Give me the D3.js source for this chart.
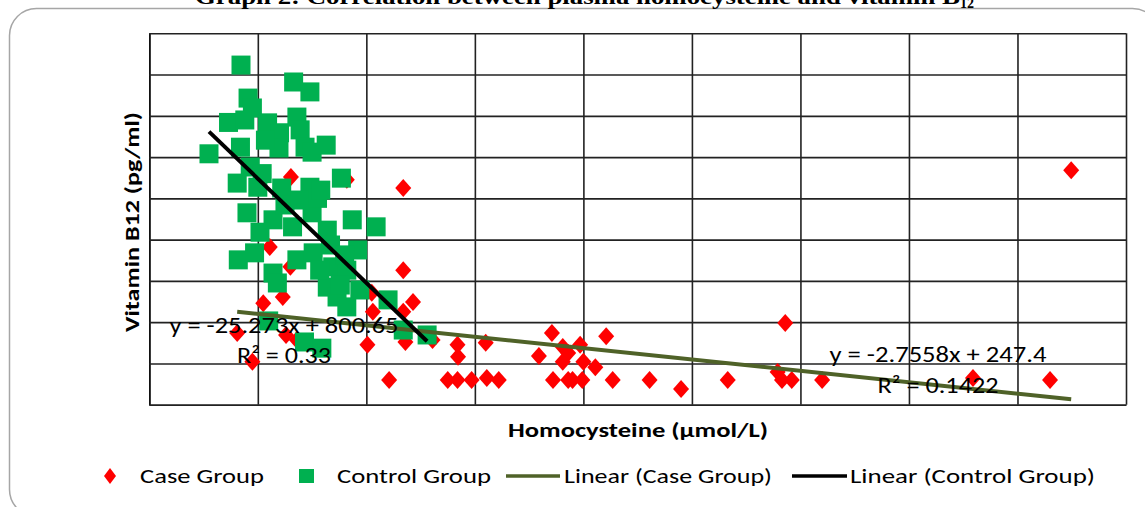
<!DOCTYPE html>
<html>
<head>
<meta charset="utf-8">
<script src="https://cdn.jsdelivr.net/npm/d3@7"></script>
<style>
  html, body { margin: 0; padding: 0; background: #fff; }
  svg { display: block; }
</style>
</head>
<body>
<svg id="chart" width="1145" height="507"></svg>
<script>
// ---------------- DATA ----------------
const xTicks = [0, 10, 20, 30, 40, 50, 60, 70, 80, 90];
const yTicks = [0, 100, 200, 300, 400, 500, 600, 700, 800, 900];

// Case group (homocysteine µmol/L, vitamin B12 pg/ml)
const caseX = [84.95, 23.4, 18.2, 13.05, 11.1, 23.4, 13.0, 10.5, 12.3, 20.5,
               24.3, 20.6, 23.4, 8.1, 9.5, 12.6, 13.6, 20.1, 23.6, 26.1,
               22.1, 27.5, 28.4, 29.7, 31.1, 32.2, 37.2, 38.6, 39.0, 39.9,
               42.7, 46.1, 49.0, 53.3, 28.4, 28.45, 31.0, 37.1, 35.9, 38.1,
               39.7, 38.1, 38.6, 40.0, 41.1, 42.1, 58.6, 57.9, 58.3, 59.2,
               62.0, 75.9, 83.0];
const caseY = [568, 525, 545, 552, 382, 326, 334, 246, 261, 271,
               249, 225, 225, 174, 104, 169, 157, 145, 152, 157,
               60, 60, 60, 60, 65, 60, 60, 60, 60, 60,
               60, 60, 38, 60, 145, 116, 150, 174, 118, 140,
               145, 104, 125, 104, 91, 166, 198, 79, 60, 60,
               60, 65, 60];

// Control group
const controlX = [8.45, 13.3, 14.8, 9.1, 9.5, 7.3, 8.4, 10.9, 12.0, 13.6,
                  13.9, 11.95, 14.35, 15.0, 16.3, 5.5, 9.3, 8.1, 10.0, 12.2,
                  14.8, 17.7, 9.0, 11.4, 10.2, 13.2, 15.0, 16.4, 18.7, 20.9,
                  19.2, 8.2, 9.7, 11.4, 13.6, 15.1, 16.9, 18.2, 11.8, 16.4,
                  17.3, 18.2, 22.0, 23.4, 25.6, 11.0, 14.3, 15.9, 12.5, 13.9,
                  15.5, 10.7, 15.8, 16.7, 18.0, 15.7, 19.4, 17.6, 8.8, 10.4];
const controlY = [823, 782, 758, 743, 719, 684, 624, 683, 659, 697,
                  666, 622, 624, 612, 629, 608, 576, 537, 527, 525,
                  527, 549, 465, 448, 418, 431, 465, 423, 448, 431,
                  375, 351, 368, 319, 351, 368, 334, 326, 295, 285,
                  261, 237, 254, 181, 169, 203, 152, 137, 484, 496,
                  500, 641, 520, 387, 363, 326, 278, 290, 690, 560];

// Linear trend lines [slope, intercept] and labels
const caseTrend = [-2.7558, 247.4];
const controlTrend = [-25.273, 800.65];
const caseTrendLabel = ["y = -2.7558x + 247.4", "R² = 0.1422"];
const controlTrendLabel = ["y = -25.273x + 800.65", "R² = 0.33"];

const legendLabels = ["Case Group", "Control Group", "Linear (Case Group)", "Linear (Control Group)"];

// ---------------- CHART ----------------
const svg = d3.select("#chart");
const FONT = "Carlito, Lato, 'Open Sans', sans-serif";
const plot = { left: 149.3, right: 1126, top: 33.3, bottom: 404.7 };

const x = d3.scaleLinear().domain([0, 90]).range([plot.left, plot.right]);
const y = d3.scaleLinear().domain([0, 900]).range([plot.bottom, plot.top]);

// chart area border
svg.append("rect")
  .attr("x", 9.5).attr("y", 8.5)
  .attr("width", 1150).attr("height", 508)
  .attr("rx", 27).attr("ry", 27)
  .attr("fill", "#fff").attr("stroke", "#a6a6a6").attr("stroke-width", 1.5);

// title (clipped at top, as in the source image)
const title = svg.append("text")
  .attr("x", 195).attr("y", 4)
  .attr("font-family", "'Liberation Serif', 'Times New Roman', serif")
  .attr("font-weight", "bold").attr("font-size", 22).attr("fill", "#000");
title.append("tspan").attr("textLength", 765).attr("lengthAdjust", "spacingAndGlyphs")
  .text("Graph 2: Correlation between plasma homocysteine and vitamin B");
title.append("tspan").attr("font-size", 14).attr("dy", 4).text("12");

// gridlines via axes
svg.append("g")
  .attr("transform", `translate(0,${plot.bottom})`)
  .call(d3.axisBottom(x).tickValues(xTicks).tickFormat("").tickSize(-(plot.bottom - plot.top)).tickSizeOuter(0))
  .call(g => g.select(".domain").attr("stroke", "#111").attr("stroke-width", 1.6))
  .call(g => g.selectAll(".tick line").attr("stroke", "#222").attr("stroke-width", 1.6));

svg.append("g")
  .attr("transform", `translate(${plot.left},0)`)
  .call(d3.axisLeft(y).tickValues(yTicks).tickFormat("").tickSize(-(plot.right - plot.left)).tickSizeOuter(0))
  .call(g => g.select(".domain").attr("stroke", "#111").attr("stroke-width", 1.6))
  .call(g => g.selectAll(".tick line").attr("stroke", "#222").attr("stroke-width", 1.6));

// axis titles
svg.append("text")
  .attr("x", 638).attr("y", 437)
  .attr("text-anchor", "middle")
  .attr("font-family", FONT).attr("font-weight", "bold").attr("font-size", 21)
  .attr("textLength", 260).attr("lengthAdjust", "spacingAndGlyphs")
  .text("Homocysteine (µmol/L)");

svg.append("text")
  .attr("transform", "translate(139,222) rotate(-90)")
  .attr("text-anchor", "middle")
  .attr("font-family", FONT).attr("font-weight", "bold").attr("font-size", 21)
  .attr("textLength", 220).attr("lengthAdjust", "spacingAndGlyphs")
  .text("Vitamin B12 (pg/ml)");

// markers
const caseData = caseX.map((v, i) => ({ x: v, y: caseY[i] }));
const controlData = controlX.map((v, i) => ({ x: v, y: controlY[i] }));
const diamond = "M0,-9L8,0L0,9L-8,0Z";

svg.append("g").selectAll("path").data(caseData).join("path")
  .attr("d", diamond)
  .attr("transform", d => `translate(${x(d.x)},${y(d.y)})`)
  .attr("fill", "#ff0000");

svg.append("g").selectAll("rect").data(controlData).join("rect")
  .attr("x", d => x(d.x) - 9.5).attr("y", d => y(d.y) - 9.5)
  .attr("width", 19).attr("height", 19)
  .attr("fill", "#00b050");

// trend lines
function trend(xs, coef) {
  const [a, b] = d3.extent(xs);
  return [[a, coef[0] * a + coef[1]], [b, coef[0] * b + coef[1]]];
}
const line = d3.line().x(d => x(d[0])).y(d => y(d[1]));
svg.append("path").attr("d", line(trend(caseX, caseTrend)))
  .attr("stroke", "#4f6228").attr("stroke-width", 4).attr("fill", "none");
svg.append("path").attr("d", line(trend(controlX, controlTrend)))
  .attr("stroke", "#000").attr("stroke-width", 4).attr("fill", "none");

// trend labels
function eqLabel(cx, y1, y2, lines, w1, w2) {
  const g = svg.append("g").attr("font-family", FONT).attr("font-size", 23).attr("fill", "#000").attr("text-anchor", "middle");
  g.append("text").attr("x", cx).attr("y", y1).attr("textLength", w1).attr("lengthAdjust", "spacingAndGlyphs").text(lines[0]);
  g.append("text").attr("x", cx).attr("y", y2).attr("textLength", w2).attr("lengthAdjust", "spacingAndGlyphs").text(lines[1]);
}
eqLabel(284, 333, 363, controlTrendLabel, 229, 94);
eqLabel(938, 362, 393, caseTrendLabel, 217, 121);

// legend
const lg = svg.append("g").attr("font-family", FONT).attr("font-size", 21).attr("fill", "#000");
const ly = 476;
lg.append("path").attr("d", "M0,-8L6,0L0,8L-6,0Z").attr("transform", `translate(110,${ly})`).attr("fill", "#ff0000");
lg.append("text").attr("x", 140).attr("y", ly + 7).attr("textLength", 124).attr("lengthAdjust", "spacingAndGlyphs").text(legendLabels[0]);
lg.append("rect").attr("x", 299).attr("y", ly - 7).attr("width", 15).attr("height", 14).attr("fill", "#00b050");
lg.append("text").attr("x", 337).attr("y", ly + 7).attr("textLength", 154).attr("lengthAdjust", "spacingAndGlyphs").text(legendLabels[1]);
lg.append("line").attr("x1", 506).attr("x2", 560).attr("y1", ly).attr("y2", ly).attr("stroke", "#4f6228").attr("stroke-width", 3.5);
lg.append("text").attr("x", 564).attr("y", ly + 7).attr("textLength", 208).attr("lengthAdjust", "spacingAndGlyphs").text(legendLabels[2]);
lg.append("line").attr("x1", 792).attr("x2", 847).attr("y1", ly).attr("y2", ly).attr("stroke", "#000").attr("stroke-width", 3.5);
lg.append("text").attr("x", 850).attr("y", ly + 7).attr("textLength", 245).attr("lengthAdjust", "spacingAndGlyphs").text(legendLabels[3]);
</script>
</body>
</html>
